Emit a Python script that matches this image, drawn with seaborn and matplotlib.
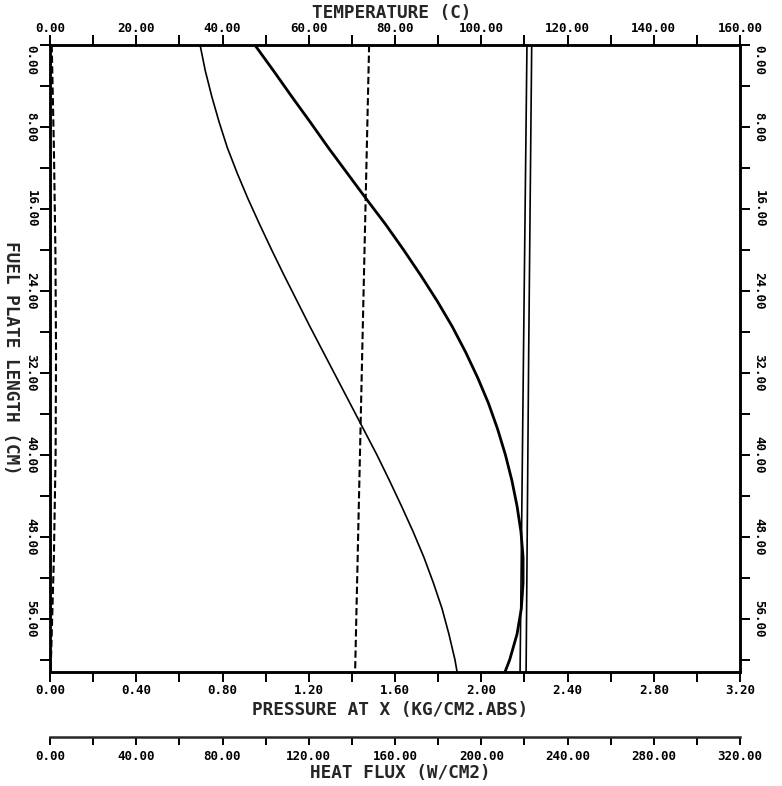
import matplotlib
matplotlib.use("Agg")
import matplotlib.pyplot as plt
import seaborn as sns
from matplotlib.ticker import MultipleLocator, FormatStrFormatter

# ---------------- data ----------------
length_cm = [0, 2.5, 5, 7.5, 10, 12.5, 15, 17.5, 20, 22.5, 25, 27.5, 30,
             32.5, 35, 37.5, 40, 42.5, 45, 47.5, 50, 52.5, 55, 57.5, 60, 61.2]
coolant_temp_c = [34.8, 36.0, 37.5, 39.2, 41.1, 43.4, 45.9, 48.6, 51.4, 54.3, 57.3, 60.3, 63.4,
                  66.5, 69.6, 72.7, 75.8, 78.7, 81.5, 84.2, 86.7, 88.9, 90.9, 92.5, 93.9, 94.4]
clad_temp_c = [47.5, 51.8, 56.0, 60.3, 64.5, 68.9, 73.3, 77.8, 82.0, 86.0, 89.8, 93.3, 96.4,
               99.2, 101.7, 103.8, 105.6, 107.1, 108.3, 109.2, 109.7, 109.7, 109.3, 108.3, 106.6, 105.5]

line_length_cm = [0, 30, 61.2]
sat_temp_c = [110.6, 109.8, 109.0]
onb_temp_c = [111.7, 111.0, 110.4]
pressure_kgcm2 = [1.48, 1.448, 1.415]

aux_length_cm = [0, 10, 20, 30, 40, 50, 61.2]
aux_value = [0.008, 0.018, 0.025, 0.028, 0.026, 0.018, 0.003]

temp_ticks = [0, 20, 40, 60, 80, 100, 120, 140, 160]
pressure_ticks = [0.0, 0.4, 0.8, 1.2, 1.6, 2.0, 2.4, 2.8, 3.2]
flux_ticks = [0, 40, 80, 120, 160, 200, 240, 280, 320]
length_ticks = [0, 8, 16, 24, 32, 40, 48, 56]

# ---------------- style ----------------
sns.set_style("white")
plt.rcParams["font.family"] = ["DejaVu Sans Mono", "DejaVu Sans"]
plt.rcParams["font.weight"] = "bold"
plt.rcParams["axes.linewidth"] = 1.8

W, H = 782, 786
fig = plt.figure(figsize=(W / 100, H / 100), dpi=100)
L, R, T, B = 50, 740, 45, 672
ax = fig.add_axes([L / W, 1 - B / H, (R - L) / W, (B - T) / H])
axT = ax.twiny()

ink = "black"
tick_fs = 9
lab_fs = 12.8
dash = (0, (3.5, 1.6))

# pressure (bottom axis)
sns.lineplot(x=pressure_kgcm2, y=line_length_cm, ax=ax, sort=False, estimator=None,
             color=ink, lw=1.5, linestyle=dash)
sns.lineplot(x=aux_value, y=aux_length_cm, ax=ax, sort=False, estimator=None,
             color=ink, lw=1.5, linestyle=dash)

# temperatures (top axis)
sns.lineplot(x=coolant_temp_c, y=length_cm, ax=axT, sort=False, estimator=None,
             color=ink, lw=1.2)
sns.lineplot(x=clad_temp_c, y=length_cm, ax=axT, sort=False, estimator=None,
             color=ink, lw=2.0)
sns.lineplot(x=sat_temp_c, y=line_length_cm, ax=axT, sort=False, estimator=None,
             color=ink, lw=1.2)
sns.lineplot(x=onb_temp_c, y=line_length_cm, ax=axT, sort=False, estimator=None,
             color=ink, lw=1.2)

ax.set_xlim(0, 3.2)
axT.set_xlim(0, 160)
ax.set_ylim(61.2, 0)

for a in (ax, axT):
    for s in a.spines.values():
        s.set_linewidth(1.8)
        s.set_color(ink)

# bottom pressure ticks
ax.set_xticks(pressure_ticks)
ax.xaxis.set_minor_locator(MultipleLocator(0.2))
ax.xaxis.set_major_formatter(FormatStrFormatter("%.2f"))
ax.tick_params(axis="x", which="both", direction="out", length=7, width=1.4,
               colors=ink, labelsize=tick_fs, pad=2, bottom=True, top=False)

# y ticks on both sides
ax.set_yticks(length_ticks)
ax.yaxis.set_minor_locator(MultipleLocator(4))
ax.yaxis.set_major_formatter(FormatStrFormatter("%.2f"))
ax.tick_params(axis="y", which="both", direction="out", length=7, width=1.4,
               colors=ink, labelsize=tick_fs, left=True, right=True,
               labelleft=True, labelright=True, pad=2, labelrotation=270)
for tk in ax.yaxis.get_major_ticks():
    tk.label1.set_va("center")
    tk.label2.set_va("center")
first = ax.yaxis.get_major_ticks()[0]
first.label1.set_va("top")
first.label2.set_va("top")

# top temperature ticks
axT.set_xticks(temp_ticks)
axT.xaxis.set_minor_locator(MultipleLocator(10))
axT.xaxis.set_major_formatter(FormatStrFormatter("%.2f"))
axT.tick_params(axis="x", which="both", direction="out", length=7, width=1.4,
                colors=ink, labelsize=tick_fs, pad=0, top=True, bottom=False)
axT.set_ylabel("")
axT.tick_params(axis="y", which="both", left=False, right=False,
                labelleft=False, labelright=False)

# axis labels
axT.set_xlabel("TEMPERATURE (C)", fontsize=lab_fs, fontweight="bold")
axT.xaxis.set_label_coords(392 / W, 1 - 13 / H, transform=fig.transFigure)
axT.xaxis.label.set_va("center")

ax.set_xlabel("PRESSURE AT X (KG/CM2.ABS)", fontsize=lab_fs, fontweight="bold")
ax.xaxis.set_label_coords(390 / W, 1 - 710 / H, transform=fig.transFigure)
ax.xaxis.label.set_va("center")

ax.set_ylabel("FUEL PLATE LENGTH (CM)", fontsize=lab_fs, fontweight="bold",
              rotation=270, va="center", ha="center")
ax.yaxis.set_label_coords(11 / W, 1 - 358 / H, transform=fig.transFigure)

# heat flux auxiliary axis
axF = fig.add_axes([L / W, 1 - 737 / H, (R - L) / W, 0.0001])
axF.set_xlim(0, 320)
axF.set_yticks([])
for k in ("top", "left", "right"):
    axF.spines[k].set_visible(False)
axF.spines["bottom"].set_linewidth(1.8)
axF.patch.set_alpha(0)
axF.set_xticks(flux_ticks)
axF.xaxis.set_minor_locator(MultipleLocator(20))
axF.xaxis.set_major_formatter(FormatStrFormatter("%.2f"))
axF.tick_params(axis="x", which="both", direction="out", length=6, width=1.4,
                colors=ink, labelsize=tick_fs, pad=3, bottom=True, top=False)
axF.set_xlabel("HEAT FLUX (W/CM2)", fontsize=lab_fs, fontweight="bold")
axF.xaxis.set_label_coords(400 / W, 1 - 773 / H, transform=fig.transFigure)
axF.xaxis.label.set_va("center")

fig.savefig("out.png", dpi=100)
